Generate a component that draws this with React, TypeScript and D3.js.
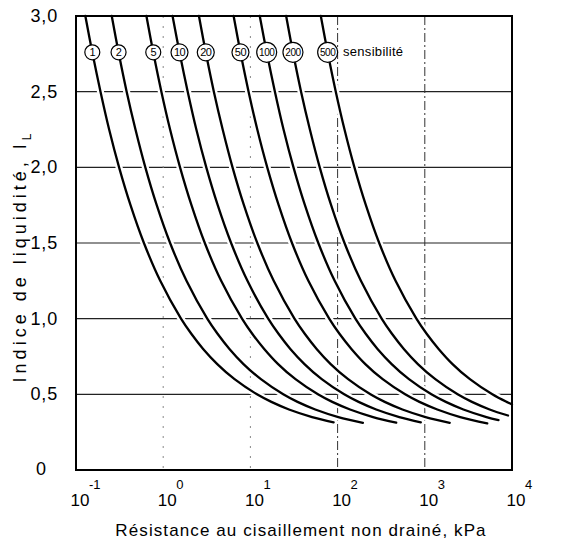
import React from "react";
import * as d3 from "d3";

// Sensitivity classes (curve labels)
const sensitivities = [1, 2, 5, 10, 20, 50, 100, 200, 500];
const sensLabels = ["1", "2", "5", "10", "20", "50", "100", "200", "500"];

// Liquidity index levels at which each curve was read
const liquidityLevels = [3.0, 2.75, 2.5, 2.25, 2.0, 1.75, 1.5, 1.25, 1.0, 0.9, 0.8, 0.7, 0.6, 0.5, 0.45, 0.4, 0.35];

// Undrained shear strength (kPa)
const cuSt1 = [0.128, 0.155, 0.191, 0.24, 0.312, 0.422, 0.601, 0.925, 1.6, 2.1, 2.87, 4.17, 6.58, 11.9, 17.4, 27.7, 51.0];
const cuSt2 = [0.257, 0.31, 0.381, 0.481, 0.624, 0.843, 1.2, 1.85, 3.2, 4.2, 5.75, 8.33, 13.2, 23.8, 34.7, 55.4, 102];
const cuSt5 = [0.642, 0.775, 0.953, 1.2, 1.56, 2.11, 3.0, 4.62, 8.01, 10.5, 14.4, 20.8, 32.9, 59.5, 86.8, 139, 255];
const cuSt10 = [1.28, 1.55, 1.91, 2.4, 3.12, 4.22, 6.01, 9.25, 16.0, 21.0, 28.7, 41.7, 65.8, 119, 174, 277, 510];
const cuSt20 = [2.57, 3.1, 3.81, 4.81, 6.24, 8.43, 12.0, 18.5, 32.0, 42.0, 57.5, 83.3, 132, 238, 347, 554, 1020];
const cuSt50 = [6.42, 7.75, 9.53, 12.0, 15.6, 21.1, 30.0, 46.2, 80.1, 105, 144, 208, 329, 595, 868, 1390, 2550];
const cuSt100 = [12.8, 15.5, 19.1, 24.0, 31.2, 42.2, 60.1, 92.5, 160, 210, 287, 417, 658, 1190, 1740, 2770, 5100];
const cuSt200 = [25.7, 31.0, 38.1, 48.1, 62.4, 84.3, 120, 185, 320, 420, 575, 833, 1320, 2380, 3470, 5540];
const cuSt500 = [64.2, 77.5, 95.3, 120, 156, 211, 300, 462, 801, 1050, 1440, 2080, 3290, 5950, 8680];

// End point of each curve
const endIL = [0.315, 0.312, 0.313, 0.315, 0.312, 0.308, 0.33, 0.36, 0.434];
const endCu = [90, 195, 470, 900, 1930, 5200, 7000, 9000, 10000];

// Axes
const yTicks = [0, 0.5, 1.0, 1.5, 2.0, 2.5, 3.0];
const yTickLabels = ["0", "0,5", "1,0", "1,5", "2,0", "2,5", "3,0"];
const xTicks = [0.1, 1, 10, 100, 1000, 10000];
const xExponents = ["-1", "0", "1", "2", "3", "4"];

const labelIL = 2.76;

const W = 570;
const H = 542;
const left = 76;
const right = 512;
const top = 16;
const bottom = 470;

export default function App() {
  const x = d3.scaleLog().domain([0.1, 10000]).range([left, right]);
  const y = d3.scaleLinear().domain([0, 3]).range([bottom, top]);

  const series = [cuSt1, cuSt2, cuSt5, cuSt10, cuSt20, cuSt50, cuSt100, cuSt200, cuSt500];
  const curves = series.map((arr, k) => {
    const pts: [number, number][] = arr.map((v, i) => [v, liquidityLevels[i]]);
    pts.push([endCu[k], endIL[k]]);
    return pts;
  });

  const line = d3
    .line<[number, number]>()
    .x((d) => x(d[0]))
    .y((d) => y(d[1]))
    .curve(d3.curveCatmullRom.alpha(0.5));

  const labelPos = curves.map((pts) => {
    const a = pts[0];
    const b = pts[1];
    const t = (a[1] - labelIL) / (a[1] - b[1]);
    const lx = Math.pow(10, Math.log10(a[0]) + t * (Math.log10(b[0]) - Math.log10(a[0])));
    return [x(lx), y(labelIL)];
  });

  const font = "'Liberation Sans', Arial, sans-serif";

  return (
    <svg
      width={W}
      height={H}
      style={{ position: "absolute", left: 0, top: 0, background: "#fff" }}
      fontFamily={font}
    >
      {/* horizontal grid */}
      {yTicks
        .filter((v) => v > 0 && v < 3)
        .map((v) => (
          <line key={"h" + v} x1={left} x2={right} y1={y(v)} y2={y(v)} stroke="#222" strokeWidth={1.1} />
        ))}
      {/* vertical grid */}
      {xTicks.slice(1, 5).map((v, i) => (
        <line
          key={"v" + v}
          x1={x(v)}
          x2={x(v)}
          y1={top}
          y2={bottom}
          stroke={i < 2 ? "#888" : "#333"}
          strokeWidth={1}
          strokeDasharray={i < 2 ? "2,8" : "9,3,2,3"}
        />
      ))}
      {/* white halos breaking the grid near the curves */}
      {curves.map((pts, k) => (
        <path key={"halo" + k} d={line(pts) || ""} fill="none" stroke="#fff" strokeWidth={7} />
      ))}
      {/* frame */}
      <rect x={left} y={top} width={right - left} height={bottom - top} fill="none" stroke="#000" strokeWidth={2} />
      {/* curves */}
      {curves.map((pts, k) => (
        <path key={"c" + k} d={line(pts) || ""} fill="none" stroke="#000" strokeWidth={2.3} strokeLinecap="round" />
      ))}
      {/* sensitivity labels */}
      {labelPos.map(([cx, cy], k) => {
        const r = sensLabels[k].length >= 3 ? 10 : sensLabels[k].length === 2 ? 8.5 : 7.5;
        return (
          <g key={"l" + k}>
            <circle cx={cx} cy={cy} r={r} fill="#fff" stroke="#000" strokeWidth={1.2} />
            <text
              x={cx}
              y={cy + 3.8}
              textAnchor="middle"
              fontSize={sensLabels[k].length >= 3 ? 10 : 11}
              letterSpacing={-0.5}
            >
              {sensLabels[k]}
            </text>
          </g>
        );
      })}
      <text x={343} y={56} fontSize={13} letterSpacing={0.3}>
        sensibilité
      </text>
      {/* y tick labels */}
      {yTicks.map((v, i) =>
        v === 0 ? (
          <text key={"yt" + v} x={41} y={y(v) + 5} textAnchor="middle" fontSize={18}>
            {yTickLabels[i]}
          </text>
        ) : (
          <text key={"yt" + v} x={58} y={y(v) + 6} textAnchor="end" fontSize={18} letterSpacing={0.8}>
            {yTickLabels[i]}
          </text>
        )
      )}
      {/* x tick labels */}
      {xTicks.map((v, i) => (
        <g key={"xt" + v}>
          <text x={x(v) + 4} y={506} textAnchor="middle" fontSize={17}>
            10
          </text>
          <text x={x(v) + 13} y={489} textAnchor="start" fontSize={13}>
            {xExponents[i]}
          </text>
        </g>
      ))}
      {/* axis titles */}
      <text x={301} y={536} textAnchor="middle" fontSize={17} letterSpacing={1.1}>
        Résistance au cisaillement non drainé, kPa
      </text>
      <text transform={`translate(26, 256) rotate(-90)`} textAnchor="middle" fontSize={18} letterSpacing={4}>
        Indice de liquidité, I<tspan fontSize={12} dy={5}>L</tspan>
      </text>
    </svg>
  );
}
